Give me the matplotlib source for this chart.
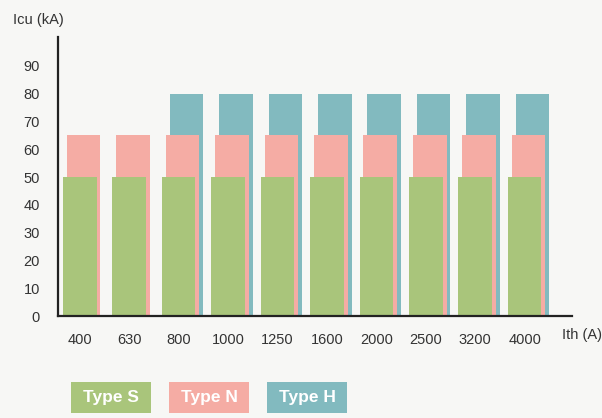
import numpy as np
from matplotlib import pyplot as plt
from matplotlib.patches import Rectangle

plt.rcParams["font.family"] = ["Liberation Sans", "DejaVu Sans"]

ratings = ["400", "630", "800", "1000", "1250", "1600", "2000", "2500", "3200", "4000"]
type_s = [50, 50, 50, 50, 50, 50, 50, 50, 50, 50]
type_n = [65, 65, 65, 65, 65, 65, 65, 65, 65, 65]
type_h = [0, 0, 80, 80, 80, 80, 80, 80, 80, 80]
y_ticks = [0, 10, 20, 30, 40, 50, 60, 70, 80, 90]

c_s = "#a9c57b"
c_n = "#f5aca4"
c_h = "#82babf"
bg = "#f7f7f5"

fig = plt.figure(figsize=(6.02, 4.18), dpi=100, facecolor=bg)
ax = fig.add_axes([0.0963, 0.244, 0.854, 0.668])
ax.set_facecolor(bg)

x = np.arange(len(ratings))
w = 0.68
step = 0.08

# back to front: H, N, S
ax.bar(x + 2 * step, type_h, width=w, color=c_h, zorder=1)
ax.bar(x + step, type_n, width=w, color=c_n, zorder=2)
ax.bar(x, type_s, width=w, color=c_s, zorder=3)

ax.set_xlim(-0.44, 9.96)
ax.set_ylim(0, 100.5)
ax.set_xticks(x)
ax.set_xticklabels(ratings)
ax.set_yticks(y_ticks)
ax.tick_params(axis="both", length=0, labelsize=10.5, colors="#333333")
ax.tick_params(axis="y", pad=13)
ax.tick_params(axis="x", pad=12)

for side in ["top", "right"]:
    ax.spines[side].set_visible(False)
for side in ["left", "bottom"]:
    ax.spines[side].set_linewidth(1.6)
    ax.spines[side].set_color("#222222")
    ax.spines[side].set_zorder(5)

fig.text(0.022, 0.952, "Icu (kA)", fontsize=10.5, color="#333333", va="center")
fig.text(0.933, 0.198, "Ith (A)", fontsize=10.5, color="#333333", va="center")

# legend boxes
labels = ["Type S", "Type N", "Type H"]
colors = [c_s, c_n, c_h]
for i, (lab, col) in enumerate(zip(labels, colors)):
    x0 = (71 + i * 98) / 602
    y0 = 1 - 413 / 418
    bw = 80 / 602
    bh = 31 / 418
    fig.patches.append(Rectangle((x0, y0), bw, bh, transform=fig.transFigure,
                                 facecolor=col, edgecolor="none"))
    fig.text(x0 + bw / 2, y0 + bh / 2, lab, fontsize=12.5, fontweight="bold",
             color="white", ha="center", va="center")

fig.savefig("out.png", dpi=100, facecolor=bg)
